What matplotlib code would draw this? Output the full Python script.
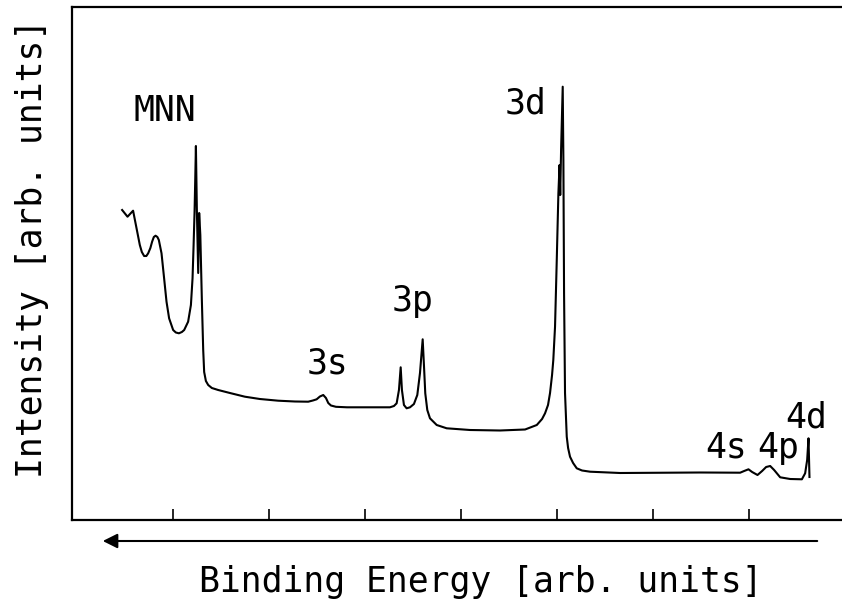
import matplotlib
matplotlib.use("Agg")
import matplotlib.pyplot as plt

# Spectrum (binding energy in arb. units, intensity in arb. units)
energy = [47.2, 52.8, 58.6, 62.2, 65.6, 67.7, 70.1, 72.4, 74.3, 76.6, 78.4, 80.2,
          82.0, 83.9, 85.4, 88.2, 90.9, 93.4, 96.1, 100.3, 103.1, 106.3, 109.4, 111.8,
          115.9, 118.8, 120.5, 121.6, 122.6, 123.3, 124.0, 125.0, 126.4, 127.4, 128.6,
          130.2, 131.6, 132.6, 134.4, 136.8, 140.6, 147.2, 159.4, 175.0, 190.6, 209.7,
          227.1, 240.9, 245.8, 249.7, 253.1, 256.6, 259.4, 261.8, 264.6, 269.8, 281.3,
          326.0, 330.2, 333.0, 335.4, 337.2, 338.5, 340.6, 343.4, 346.9, 351.0, 354.5,
          357.3, 360.1, 361.5, 362.8, 364.9, 367.7, 374.7, 385.1, 409.4, 440.6, 466.7,
          478.9, 484.4, 487.5, 490.6, 492.7, 494.8, 496.1, 497.9, 499.7, 501.4, 502.6,
          503.3, 504.2, 505.9, 506.6, 507.3, 508.3, 510.1, 511.5, 513.5, 516.7, 520.5,
          526.0, 534.4, 565.6, 649.0, 690.6, 694.8, 699.3, 703.1, 708.7, 713.5, 717.7,
          721.9, 726.0, 732.3, 742.7, 754.9, 758.3, 760.4, 761.8, 762.8]
intensity = [310, 303.3, 309.3, 291.7, 275, 268, 264, 264, 266.7, 272, 278.3, 283,
             284.3, 283, 280, 266.7, 241.7, 218.3, 201.7, 190, 187.5, 186.7, 188, 190,
             198.3, 215, 241.7, 275, 308.3, 340, 374, 310, 247, 307, 285,
             220, 170, 148, 139, 135, 132, 130, 127, 123.3, 121, 119.3,
             118.5, 118.3, 119.5, 120.7, 123.5, 125, 122, 117, 114.5, 113.2, 112.7,
             112.7, 114, 116.7, 130, 152.7, 130, 115, 111.7, 112.7, 116, 125,
             147, 180.7, 153.3, 126.7, 110, 101.7, 95, 91.7, 90, 89.5, 90.5,
             95, 101, 106.7, 115, 127, 145, 160, 193.3, 260, 326.7, 355,
             325, 370, 433.3, 360, 227, 127, 83.3, 72, 63.3, 57, 51.7,
             49.5, 48.3, 47, 47.5, 47.3, 49, 50.7, 48, 45, 49, 53,
             54, 50, 42.7, 41, 40.7, 46.7, 60, 81.7, 43]

peak_labels = ["MNN", "3s", "3p", "3d", "4s", "4p", "4d"]
label_x = [91.7, 261.5, 349.0, 466.7, 676.0, 730.0, 759.4]
label_y = [399, 146, 209, 407, 62, 62, 92]

tick_pos = [100, 200, 300, 400, 500, 600, 700]

mono = "DejaVu Sans Mono"

fig = plt.figure(figsize=(8.42, 6.08), dpi=100)
ax = fig.add_axes([72 / 842, 88 / 608, 778 / 842, 513 / 608])

ax.plot(energy, intensity, color="black", lw=1.5, solid_joinstyle="round")

for s, x, y in zip(peak_labels, label_x, label_y):
    ax.text(x, y, s, ha="center", va="baseline", fontsize=25, family=mono)

ax.set_xlim(-5, 805)
ax.set_ylim(0, 513)
ax.set_xticks(tick_pos)
ax.set_xticklabels([])
ax.set_yticks([])
ax.tick_params(axis="x", direction="in", length=8, width=1.2)
for sp in ax.spines.values():
    sp.set_linewidth(1.6)

# energy direction arrow and axis titles
ax.annotate("", xy=(100 / 842, 1 - 541 / 608), xytext=(820 / 842, 1 - 541 / 608),
            xycoords="figure fraction", textcoords="figure fraction",
            arrowprops=dict(arrowstyle="-|>", lw=1.5, color="black", mutation_scale=22))
fig.text(481 / 842, 1 - 582 / 608, "Binding Energy [arb. units]", ha="center", va="center",
         fontsize=25, family=mono)
fig.text(32 / 842, 1 - 248 / 608, "Intensity [arb. units]", ha="center", va="center",
         rotation=90, fontsize=25, family=mono)

fig.savefig("out.png", dpi=100)
